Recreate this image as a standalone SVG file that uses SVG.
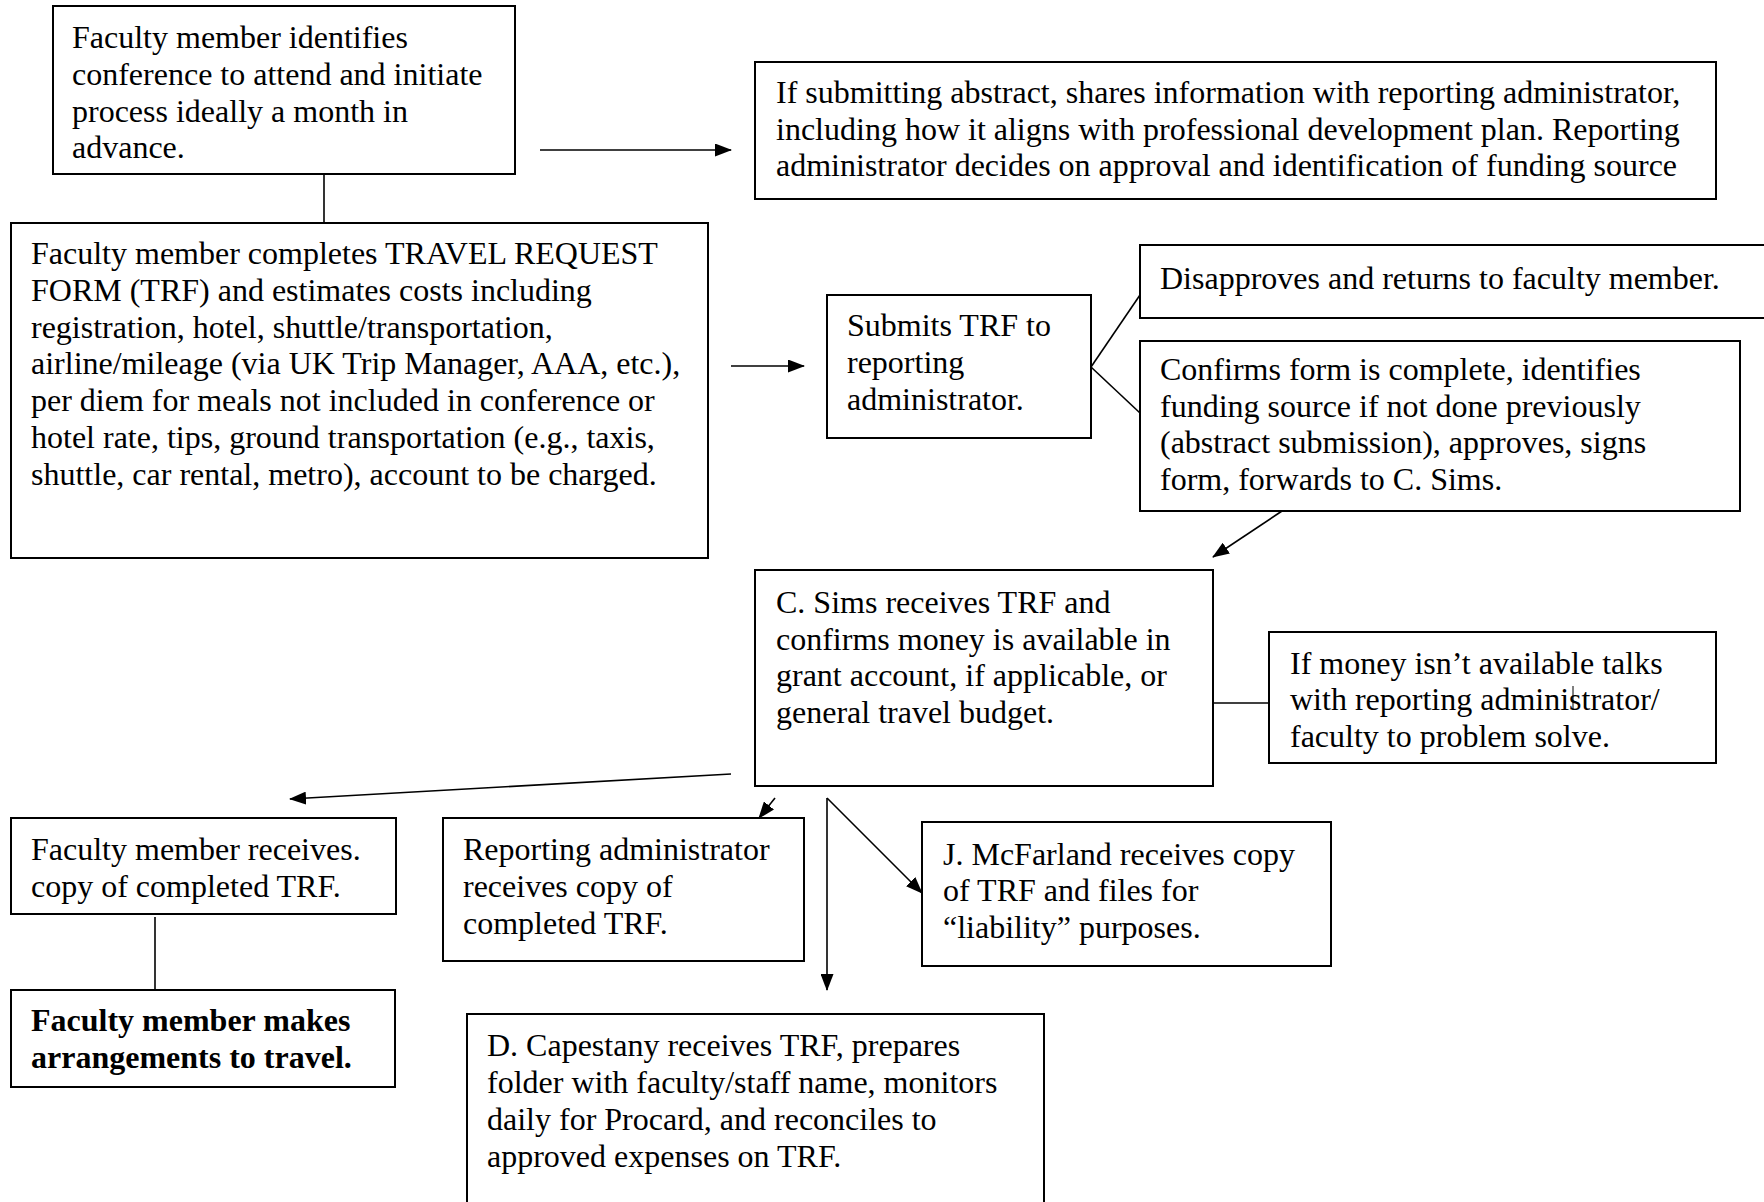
<svg xmlns="http://www.w3.org/2000/svg" width="1764" height="1202" viewBox="0 0 1764 1202">
<style>
.box{fill:#fff;stroke:#000;stroke-width:2}
.t{font-family:"Liberation Serif","Times New Roman",serif;font-size:32px;fill:#000}
.b{font-weight:bold}
.c{stroke:#000;stroke-width:1.6;fill:none}
</style>
<defs>
<marker id="ah" markerUnits="userSpaceOnUse" markerWidth="17" markerHeight="13" refX="16" refY="6.5" orient="auto">
<path d="M0,0 L17,6.5 L0,13 z" fill="#000"/>
</marker>
</defs>
<rect width="1764" height="1202" fill="#fff"/>
<g id="connectors">
<line class="c" x1="324" y1="174" x2="324" y2="223"/>
<line class="c" x1="540" y1="150" x2="731" y2="150" marker-end="url(#ah)"/>
<line class="c" x1="731" y1="366" x2="804" y2="366" marker-end="url(#ah)"/>
<line class="c" x1="1091" y1="367" x2="1140" y2="295"/>
<line class="c" x1="1091" y1="367" x2="1140" y2="413"/>
<line class="c" x1="1282" y1="511" x2="1213" y2="557" marker-end="url(#ah)"/>
<line class="c" x1="1213" y1="703" x2="1269" y2="703"/>
<line class="c" x1="731" y1="774" x2="290" y2="799" marker-end="url(#ah)"/>
<line class="c" x1="775" y1="798" x2="759" y2="818" marker-end="url(#ah)"/>
<line class="c" x1="827" y1="798" x2="827" y2="990" marker-end="url(#ah)"/>
<line class="c" x1="827" y1="798" x2="922" y2="893" marker-end="url(#ah)"/>
<line class="c" x1="155" y1="917" x2="155" y2="990"/>
</g>
<g id="n1">
<rect class="box" x="53" y="6" width="462" height="168"/>
<text class="t" x="72" y="48">Faculty member identifies</text>
<text class="t" x="72" y="85">conference to attend and initiate</text>
<text class="t" x="72" y="122">process ideally a month in</text>
<text class="t" x="72" y="158">advance.</text>
</g>
<g id="n2">
<rect class="box" x="755" y="62" width="961" height="137"/>
<text class="t" x="776" y="103">If submitting abstract, shares information with reporting administrator,</text>
<text class="t" x="776" y="140">including how it aligns with professional development plan. Reporting</text>
<text class="t" x="776" y="176">administrator decides on approval and identification of funding source</text>
</g>
<g id="n3">
<rect class="box" x="11" y="223" width="697" height="335"/>
<text class="t" x="31" y="264">Faculty member completes TRAVEL REQUEST</text>
<text class="t" x="31" y="301">FORM (TRF) and estimates costs including</text>
<text class="t" x="31" y="338">registration, hotel, shuttle/transportation,</text>
<text class="t" x="31" y="374">airline/mileage (via UK Trip Manager, AAA, etc.),</text>
<text class="t" x="31" y="411">per diem for meals not included in conference or</text>
<text class="t" x="31" y="448">hotel rate, tips, ground transportation (e.g., taxis,</text>
<text class="t" x="31" y="485">shuttle, car rental, metro), account to be charged.</text>
</g>
<g id="n4">
<rect class="box" x="827" y="295" width="264" height="143"/>
<text class="t" x="847" y="336">Submits TRF to</text>
<text class="t" x="847" y="373">reporting</text>
<text class="t" x="847" y="410">administrator.</text>
</g>
<g id="n5">
<rect class="box" x="1140" y="245" width="625" height="73"/>
<text class="t" x="1160" y="289">Disapproves and returns to faculty member.</text>
</g>
<g id="n6">
<rect class="box" x="1140" y="341" width="600" height="170"/>
<text class="t" x="1160" y="380">Confirms form is complete, identifies</text>
<text class="t" x="1160" y="417">funding source if not done previously</text>
<text class="t" x="1160" y="453">(abstract submission), approves, signs</text>
<text class="t" x="1160" y="490">form, forwards to C. Sims.</text>
</g>
<g id="n7">
<rect class="box" x="755" y="570" width="458" height="216"/>
<text class="t" x="776" y="613">C. Sims receives TRF and</text>
<text class="t" x="776" y="650">confirms money is available in</text>
<text class="t" x="776" y="686">grant account, if applicable, or</text>
<text class="t" x="776" y="723">general travel budget.</text>
</g>
<g id="n8">
<rect class="box" x="1269" y="632" width="447" height="131"/>
<text class="t" x="1290" y="674">If money isn’t available talks</text>
<text class="t" x="1290" y="710">with reporting administrator/</text>
<text class="t" x="1290" y="747">faculty to problem solve.</text>
<line x1="1573" y1="686" x2="1573" y2="710" stroke="#000" stroke-width="1"/>
</g>
<g id="n9">
<rect class="box" x="11" y="818" width="385" height="96"/>
<text class="t" x="31" y="860">Faculty member receives.</text>
<text class="t" x="31" y="897">copy of completed TRF.</text>
</g>
<g id="n10">
<rect class="box" x="11" y="990" width="384" height="97"/>
<text class="t b" x="31" y="1031">Faculty member makes</text>
<text class="t b" x="31" y="1068">arrangements to travel.</text>
</g>
<g id="n11">
<rect class="box" x="443" y="818" width="361" height="143"/>
<text class="t" x="463" y="860">Reporting administrator</text>
<text class="t" x="463" y="897">receives copy of</text>
<text class="t" x="463" y="934">completed TRF.</text>
</g>
<g id="n12">
<rect class="box" x="922" y="822" width="409" height="144"/>
<text class="t" x="943" y="865">J. McFarland receives copy</text>
<text class="t" x="943" y="901">of TRF and files for</text>
<text class="t" x="943" y="938">“liability” purposes.</text>
</g>
<g id="n13">
<rect class="box" x="467" y="1014" width="577" height="200"/>
<text class="t" x="487" y="1056">D. Capestany receives TRF, prepares</text>
<text class="t" x="487" y="1093">folder with faculty/staff name, monitors</text>
<text class="t" x="487" y="1130">daily for Procard, and reconciles to</text>
<text class="t" x="487" y="1167">approved expenses on TRF.</text>
</g>
</svg>
